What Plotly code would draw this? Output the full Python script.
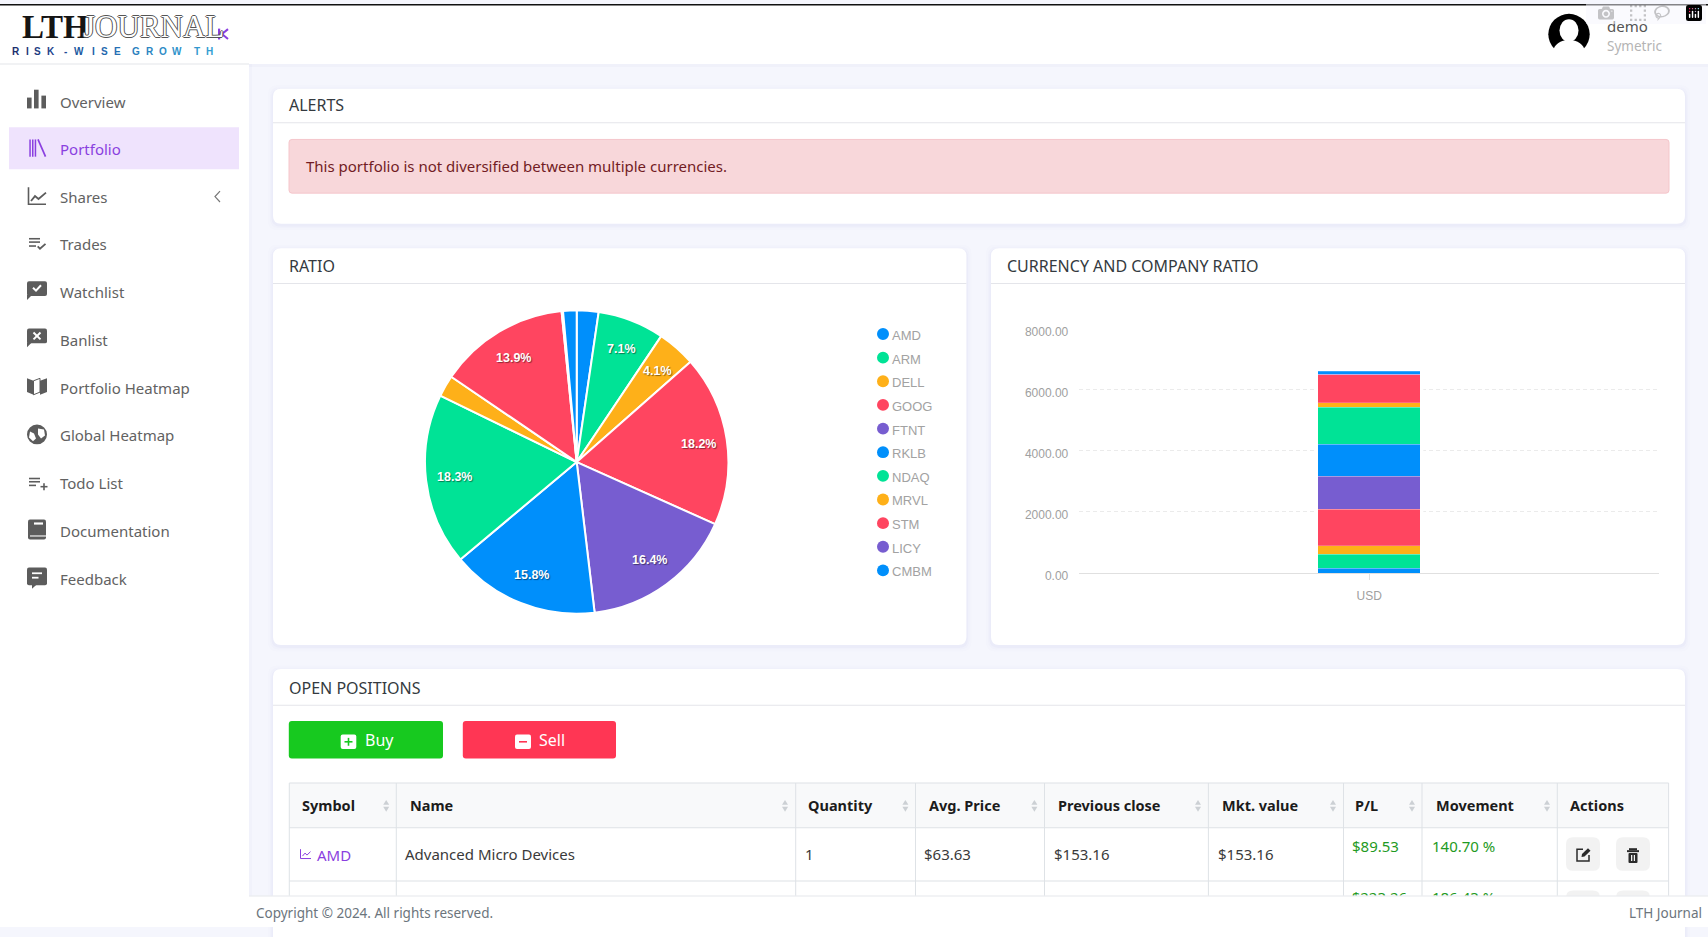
import math

import plotly.graph_objects as go

W, H = 1708, 937

symbols = ["AMD", "ARM", "DELL", "GOOG", "FTNT", "RKLB", "NDAQ", "MRVL", "STM", "LICY", "CMBM"]
market_values = [153.16, 468, 271, 1202, 1083, 1043, 1208, 152, 918, 10, 95]
slice_colors = ["#008FFB", "#00E396", "#FEB019", "#FF4560", "#775DD0"]
currencies = ["USD"]
y_ticks = [0, 2000, 4000, 6000, 8000]

menu_items = ["Overview", "Portfolio", "Shares", "Trades", "Watchlist", "Banlist",
              "Portfolio Heatmap", "Global Heatmap", "Todo List", "Documentation", "Feedback"]
menu_y = [99, 146.7, 195.7, 243.7, 292.7, 340.7, 389.7, 437.7, 486.7, 534.7, 583.7]

table_headers = ["Symbol", "Name", "Quantity", "Avg. Price", "Previous close",
                 "Mkt. value", "P/L", "Movement", "Actions"]
header_x = [301.7, 409.6, 808, 929, 1057.8, 1222, 1355, 1435.5, 1570]
column_x = [289.3, 396.3, 795.7, 915.5, 1044.5, 1208.4, 1343.5, 1422, 1557.3, 1668.6]
sort_x = [386.2, 785, 905.4, 1034.4, 1198, 1333, 1412, 1547]
row_values = ["Advanced Micro Devices", "1", "$63.63", "$153.16", "$153.16"]
row_x = [405.4, 805, 924, 1053.6, 1217.6]
row_gain = ["$89.53", "140.70 %"]
gain_x = [1351.7, 1431.9]
next_gain = ["$223.26", "186.43 %"]

logo_letters = list("RISK-WISEGROWTH")
logo_x = [16, 27, 37, 51, 65, 79, 93, 104, 117, 136, 150, 163, 177, 197, 209]
logo_colors = ["#1c2f6e", "#1c3678", "#1d3d82", "#1e448c", "#1f4b96", "#2058a0", "#2161a8", "#2368ae",
               "#256fb4", "#2a80be", "#2c86c2", "#2e8cc6", "#3092ca", "#3298ce", "#349ed2"]

FONT = "Noto Sans"
CHART_FONT = "Liberation Sans"
GREY_ICON = "#5c5c5c"
PURPLE = "#8a3fe0"
GREEN = "#1f9a23"
LINE = "#e4e5ea"


def fx(x):
    return x / W


def fy(y):
    return 1 - y / H


shapes = []
annotations = []


def rect(x0, y0, x1, y1, color, r=0, line=None, layer="below"):
    if r:
        d = (f"M {fx(x0 + r)} {fy(y0)} L {fx(x1 - r)} {fy(y0)} Q {fx(x1)} {fy(y0)} {fx(x1)} {fy(y0 + r)} "
             f"L {fx(x1)} {fy(y1 - r)} Q {fx(x1)} {fy(y1)} {fx(x1 - r)} {fy(y1)} "
             f"L {fx(x0 + r)} {fy(y1)} Q {fx(x0)} {fy(y1)} {fx(x0)} {fy(y1 - r)} "
             f"L {fx(x0)} {fy(y0 + r)} Q {fx(x0)} {fy(y0)} {fx(x0 + r)} {fy(y0)} Z")
        shapes.append(dict(type="path", path=d, xref="paper", yref="paper", fillcolor=color,
                           line=dict(width=1 if line else 0, color=line or color), layer=layer))
    else:
        shapes.append(dict(type="rect", x0=fx(x0), x1=fx(x1), y0=fy(y0), y1=fy(y1), xref="paper", yref="paper",
                           fillcolor=color, line=dict(width=1 if line else 0, color=line or color), layer=layer))


def poly(points, color, width=0, fill=None, close=False):
    d = "M " + " L ".join(f"{fx(x)} {fy(y)}" for x, y in points)
    if close:
        d += " Z"
    shapes.append(dict(type="path", path=d, xref="paper", yref="paper", layer="below",
                       fillcolor=fill or "rgba(0,0,0,0)", line=dict(width=width, color=color)))


def circle(cx, cy, r, color, ry=None):
    ry = ry or r
    shapes.append(dict(type="circle", x0=fx(cx - r), x1=fx(cx + r), y0=fy(cy + ry), y1=fy(cy - ry),
                       xref="paper", yref="paper", fillcolor=color, line=dict(width=0), layer="below"))


def label(x, y, text, size=15, color="#333333", family=FONT, anchor="left", weight=None, shadow=None):
    font = dict(size=size, color=color, family=family)
    if weight:
        font["weight"] = weight
    if shadow:
        font["shadow"] = shadow
    annotations.append(dict(x=fx(x), y=fy(y), xref="paper", yref="paper", text=text, showarrow=False,
                            xanchor=anchor, yanchor="middle", font=font, borderpad=0, borderwidth=0))


def card(x0, y0, x1, y1, title, title_y, line_y):
    for grow, alpha in ((5, 0.012), (3, 0.018), (1.5, 0.03)):
        rect(x0 - grow, y0 - grow + 1.5, x1 + grow, y1 + grow + 1.5, f"rgba(80,90,200,{alpha})", r=9)
    rect(x0, y0, x1, y1, "#ffffff", r=8)
    rect(x0, line_y, x1, line_y + 1, LINE)
    label(x0 + 16, title_y, title, size=16, color="#343a40")


def sidebar():
    rect(0, 0, 249, H, "#ffffff")
    rect(249, 0, 252, H, "rgba(120,120,180,0.03)")
    rect(249, 1, W, 61, "#ffffff")
    rect(249, 61, W, 64, "rgba(120,120,180,0.04)")
    rect(0, 60.5, 249, 61.5, LINE)
    rect(0, 0, W, 1.4, "#111111")

    # logo
    label(22, 23, "LTH", size=33, color="#151515", family="Liberation Sans Narrow", weight=700)
    label(83, 23, "JOURNAL", size=31, color="#ffffff", family="Liberation Sans Narrow",
          shadow="1px 0 0 #555,-1px 0 0 #555,0 1px 0 #555,0 -1px 0 #555")
    for letter, x, color in zip(logo_letters, logo_x, logo_colors):
        label(x, 48, letter, size=10, color=color, family=CHART_FONT, anchor="center", weight=700)
    rect(218, 25, 220.2, 36, PURPLE)
    poly([(228, 25.5), (222, 30.5), (228, 35.5)], PURPLE, width=2)

    # menu
    rect(9, 125, 239, 167.7, "#efe3fd")
    for text, y in zip(menu_items, menu_y):
        label(60, y, text, size=15, color=PURPLE if text == "Portfolio" else "#626262")
    poly([(220, 190), (215, 195.5), (220, 201)], "#777777", width=1.2)

    c = GREY_ICON
    # overview
    rect(27, 95, 31.6, 106, c)
    rect(34, 87, 38.6, 106, c)
    rect(41.4, 93, 46, 106, c)
    # portfolio
    for x in (29.3, 32, 34.7):
        rect(x, 137.5, x + 1.5, 155, PURPLE)
    poly([(38, 137.5), (45.5, 155)], PURPLE, width=1.7)
    # shares
    poly([(28.5, 186), (28.5, 203.3), (46, 203.3)], c, width=1.6)
    poly([(31, 200), (35, 195), (38.5, 198), (46, 191.5)], c, width=1.8)
    # trades
    for y, x1 in ((238.3, 40), (241.7, 40), (245.7, 36)):
        rect(29, y - 0.8, x1, y + 0.8, c)
    poly([(37.7, 246), (40, 248.5), (45.5, 243.5)], c, width=1.8)
    # watchlist and banlist bubbles
    for top in (281.5, 329.5):
        rect(27, top, 47, top + 15, c, r=2)
        poly([(27, top + 14), (27, top + 19), (32, top + 14)], c, fill=c, close=True)
    poly([(33, 288), (36, 291), (41, 285.5)], "#ffffff", width=2)
    poly([(33.5, 333.5), (40.5, 340.5)], "#ffffff", width=2)
    poly([(40.5, 333.5), (33.5, 340.5)], "#ffffff", width=2)
    # map
    poly([(27, 380), (33.5, 382.5), (33.5, 396.7), (27, 394)], c, fill=c, close=True)
    poly([(47, 380), (40, 382.5), (40, 396.7), (47, 394)], c, fill=c, close=True)
    poly([(33.5, 382.5), (40, 380), (40, 394), (33.5, 396.7)], c, width=1, close=True)
    # globe
    circle(37, 437, 10, c)
    poly([(38, 431), (44, 432), (45, 438), (41, 441), (38, 437)], c, fill="#ffffff", close=True)
    poly([(30, 434), (34, 436), (36, 441), (33, 444), (29, 440)], c, fill="#ffffff", close=True)
    # todo
    for y, x1 in ((481.7, 40), (485, 40), (488.7, 36)):
        rect(29, y - 0.8, x1, y + 0.8, c)
    rect(40.5, 489.2, 47.5, 490.8, c)
    rect(43.2, 486.5, 44.8, 493.5, c)
    # documentation
    rect(28, 523.3, 46, 543.5, c, r=2)
    rect(30, 539.5, 46, 540.6, "#ffffff")
    rect(34, 526.3, 43, 528.5, "#ffffff")
    # feedback
    rect(27, 572, 47, 590, c, r=2)
    poly([(32, 589), (32, 593.5), (37, 589)], c, fill=c, close=True)
    rect(32, 577, 42, 578.8, "#ffffff")
    rect(32, 581.5, 38.5, 583.3, "#ffffff")


def top_bar():
    circle(1569, 30.7, 20.7, "#000000")
    circle(1569, 27, 9.5, "#ffffff", ry=11.5)
    circle(1569, 47.5, 15.5, "#ffffff", ry=11)
    label(1606.7, 22, "demo", size=15, color="#555555")
    label(1606.7, 42.7, "Symetric", size=13.5, color="#b4b4b4")


def alerts():
    card(273, 86, 1685, 223, "ALERTS", 102.5, 120)
    rect(289, 137.5, 1669, 192, "#f8d7da", r=3, line="#f5c6cb")
    label(306, 164.5, "This portfolio is not diversified between multiple currencies.", size=15, color="#721c24")


def chart_legend():
    for i, symbol in enumerate(symbols):
        y = 335 + i * 24
        circle(883, y, 6, slice_colors[i % 5])
        label(892, y + 1.5, symbol, size=13, color="#a2a2a2", family=CHART_FONT)


def pie_labels(cx, cy, radius):
    total = sum(market_values)
    running = 0
    for value in market_values:
        pct = value / total
        angle = 2 * math.pi * (running + pct / 2)
        running += pct
        if pct >= 0.04:
            label(cx + radius * math.sin(angle), cy - radius * math.cos(angle), f"{pct * 100:.1f}%",
                  size=12.5, color="#ffffff", family=CHART_FONT, anchor="center", weight=700,
                  shadow="1px 1px 1px rgba(0,0,0,0.45)")


def open_positions():
    card(273, 675, 1685, 960, "OPEN POSITIONS", 694, 711.3)
    rect(288.8, 728, 443, 766, "#17c91f", r=3)
    rect(462.8, 728, 616, 766, "#ff3654", r=3)
    rect(340.7, 741.7, 356.3, 756.3, "#ffffff", r=2)
    rect(344.5, 748.2, 352.5, 749.8, "#17c91f")
    rect(347.7, 745, 349.3, 753, "#17c91f")
    rect(515, 741.7, 531, 756.3, "#ffffff", r=2)
    rect(519, 748.2, 527, 749.8, "#ff3654")
    label(379, 747, "Buy", size=16, color="#ffffff", anchor="center")
    label(552, 747, "Sell", size=16, color="#ffffff", anchor="center")

    rect(column_x[0], 790.7, column_x[-1], 836.3, "#f8f9fa")
    for y in (790.7, 836.3, 890.3):
        rect(column_x[0], y - 0.5, column_x[-1], y + 0.5, "#dee2e6")
    for x in column_x:
        rect(x - 0.5, 790.7, x + 0.5, 937, "#dee2e6")
    for text, x in zip(table_headers, header_x):
        label(x, 813, text, size=14.5, color="#1c1c1c", weight=700)
    for x in sort_x:
        poly([(x - 3, 813), (x, 808), (x + 3, 813)], "#ccd0d4", fill="#ccd0d4", close=True)
        poly([(x - 3, 815), (x, 820), (x + 3, 815)], "#ccd0d4", fill="#ccd0d4", close=True)

    poly([(300.5, 858), (300.5, 867.5), (311, 867.5)], PURPLE, width=1)
    poly([(302.5, 865), (305, 862), (307, 864), (310.5, 860.5)], PURPLE, width=1)
    label(316.8, 864, "AMD", size=15, color=PURPLE)
    for text, x in zip(row_values, row_x):
        label(x, 863, text, size=15, color="#3a3a3a")
    for text, x in zip(row_gain, gain_x):
        label(x, 855, text, size=15, color=GREEN)

    for top in (846, 900):
        rect(1566, top, 1600, top + 34, "#f2f2f2", r=7)
        rect(1616, top, 1650, top + 34, "#f2f2f2", r=7)
    poly([(1583, 858), (1577, 858), (1577, 870), (1589, 870), (1589, 864)], "#2b2b2b", width=1.5)
    poly([(1581.5, 866), (1582, 863), (1588, 857), (1590.5, 859.5), (1584.5, 865.5)], "#2b2b2b",
         fill="#2b2b2b", close=True)
    rect(1629, 857, 1637, 859, "#2b2b2b")
    rect(1627, 859, 1639, 861, "#2b2b2b")
    rect(1628.5, 862, 1637.5, 872, "#2b2b2b", r=1)
    rect(1631, 864, 1632.3, 870, "#f2f2f2")
    rect(1633.8, 864, 1635, 870, "#f2f2f2")

    # footer covers the rows that scroll under it
    rect(249, 905.3, W, H, "#ffffff", layer="above")
    rect(249, 905, W, 906, "#e6e7eb", layer="above")
    label(256, 922.5, "Copyright © 2024. All rights reserved.", size=13.5, color="#6c757d")
    label(1701.5, 922.5, "LTH Journal", size=13.5, color="#6c757d", anchor="right")


PIE_CX, PIE_CY, PIE_R = 576.7, 465, 154
BAR_WIDTH = 0.177

fig = go.Figure()

fig.add_trace(go.Pie(
    labels=symbols, values=market_values, sort=False, direction="clockwise", rotation=0,
    domain=dict(x=[fx(PIE_CX - PIE_R), fx(PIE_CX + PIE_R)], y=[fy(PIE_CY + PIE_R), fy(PIE_CY - PIE_R)]),
    marker=dict(colors=[slice_colors[i % 5] for i in range(len(symbols))], line=dict(color="#ffffff", width=2)),
    textinfo="none", showlegend=False,
))

for i, (symbol, value) in enumerate(zip(symbols, market_values)):
    fig.add_trace(go.Bar(
        x=currencies, y=[value], name=symbol, width=BAR_WIDTH, showlegend=False,
        marker=dict(color=slice_colors[i % 5], line=dict(color="rgba(255,255,255,0.3)", width=0.7)),
    ))

# the tops of the next table row peek out above the footer
fig.add_trace(go.Scatter(
    x=gain_x, y=[909, 909], text=next_gain, mode="text", textposition="middle right", xaxis="x2", yaxis="y2",
    textfont=dict(size=15, color=GREEN, family=FONT), showlegend=False, hoverinfo="skip",
))

sidebar()
top_bar()
alerts()
card(273, 248, 966.4, 650.7, "RATIO", 266, 283.3)
card(991, 248, 1685, 650.7, "CURRENCY AND COMPANY RATIO", 266, 283.3)
open_positions()
chart_legend()
pie_labels(PIE_CX, PIE_CY, PIE_R * 0.8)

# white stroke around the stacked column, above the grid and below the bars
shapes.append(dict(type="rect", xref="x", yref="y", x0=-BAR_WIDTH / 2 - 0.005, x1=BAR_WIDTH / 2 + 0.005,
                   y0=0, y1=sum(market_values), fillcolor="#ffffff", line=dict(width=0), layer="between"))

fig.update_layout(
    width=W, height=H, margin=dict(l=0, r=0, t=0, b=0), autosize=False,
    paper_bgcolor="#f5f6fd", plot_bgcolor="rgba(0,0,0,0)", barmode="stack",
    shapes=shapes, annotations=annotations,
    xaxis=dict(domain=[fx(1079.3), fx(1659)], type="category", showgrid=False, ticks="outside", ticklen=6,
               tickcolor="#e0e0e0", showline=True, linecolor="#e0e0e0", fixedrange=True,
               ticklabelstandoff=6, tickfont=dict(size=12, color="#a0a0a0", family=CHART_FONT)),
    yaxis=dict(domain=[fy(577.7), fy(329.7)], range=[0, 8000], tickvals=y_ticks, tickformat=".2f",
               showgrid=True, gridcolor="#ebebeb", griddash="4px,3px", zeroline=False, fixedrange=True,
               ticklabelstandoff=10, ticklabelshift=3, tickfont=dict(size=12, color="#a0a0a0", family=CHART_FONT)),
    xaxis2=dict(domain=[0, 1], range=[0, W], visible=False, fixedrange=True, anchor="y2"),
    yaxis2=dict(domain=[0, 1], range=[H, 0], visible=False, fixedrange=True, anchor="x2"),
)

fig.write_html("out.html", post_script="document.body.style.margin='0';document.body.style.overflow='hidden';")
